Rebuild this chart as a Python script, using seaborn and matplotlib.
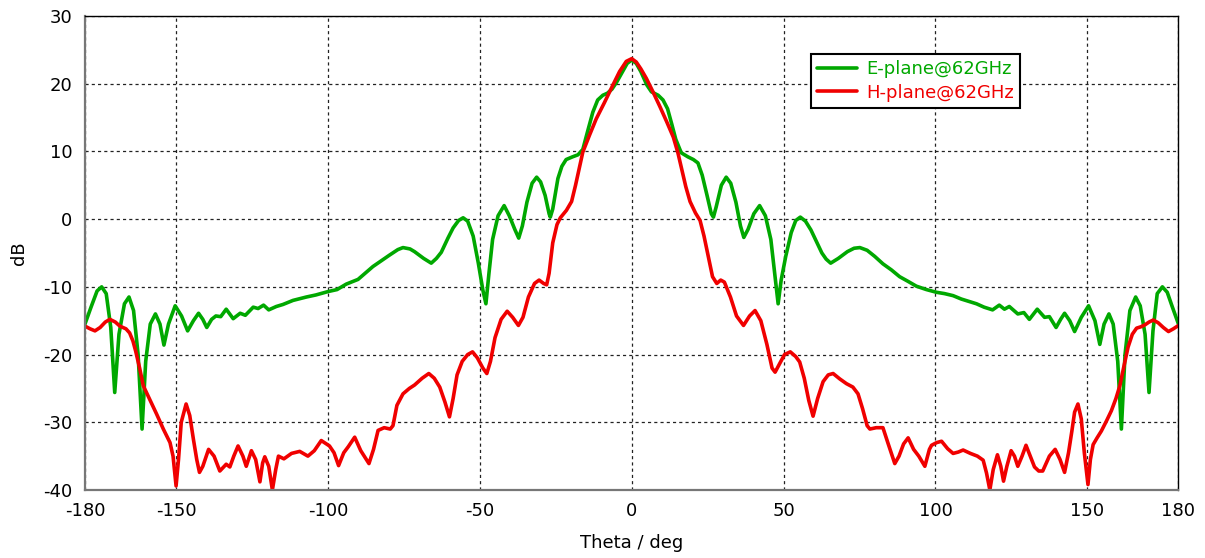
"""E-plane / H-plane radiation pattern at 62 GHz."""

import matplotlib
matplotlib.use("Agg")
import matplotlib.pyplot as plt
import numpy as np
import pandas as pd
import seaborn as sns

sns.set_style("white")
plt.rcParams["font.family"] = ["DejaVu Sans"]
plt.rcParams["axes.unicode_minus"] = False

GREEN = "#00A800"
RED = "#F00000"

# E-plane (theta in deg, gain in dB)
e_theta = [
    -180, -178, -176, -174.5, -173, -171.5, -170.2, -168.8, -167, -165.5,
    -164, -162.5, -161.2, -160, -158.5, -156.8, -155.3, -154, -152.5, -150.3,
    -148.2, -146.2, -144.3, -142.6, -141.2, -139.9, -138.3, -136.9, -135.3, -133.5,
    -131.2, -128.9, -127.2, -124.6, -123, -121.2, -119.5, -117, -114.8, -111.5,
    -107.1, -104, -100, -97, -94, -90.1, -85.2, -79.7, -77, -75.3,
    -73, -71.5, -68.5, -66, -64.3, -62.7, -60.5, -58.8, -57, -55.5,
    -54, -52.2, -50.5, -49, -48, -47, -45.8, -44, -42, -40.3,
    -38.5, -37.2, -36, -34.5, -32.8, -31.3, -30, -28.5, -27.2, -26.8,
    -26, -24.3, -23, -21.6, -19.5, -17.7, -16.1, -14.5, -12.8, -11.2,
    -9.5, -8, -6.5, -5, -3, -1.5, 0,
    1.5, 3, 5, 6.5, 8.7, 10.3, 11.8, 13.2, 14.5, 16.3,
    18.5, 20.3, 21.8, 23.2, 24.8, 26.2, 26.9, 27.8, 29.5, 31.1,
    32.6, 34.3, 35.8, 36.9, 38.3, 40.2, 42.1, 44, 45.8, 47.2,
    48.2, 49.2, 50.7, 52.5, 54, 55.5, 57.2, 59, 61, 62.6,
    64, 65.5, 68, 71, 73.2, 75.1, 77.5, 80, 82.7, 85.5,
    88.2, 91, 93.7, 97, 100.3, 103, 105.8, 108.5, 111.3, 113.5,
    116, 118.8, 121, 122.7, 124.3, 127.1, 129.1, 130.9, 133.5, 135.9,
    137.5, 139.7, 141.2, 142.5, 144.2, 145.8, 148, 150.4, 152.5, 154.1,
    155.5, 157.1, 158.5, 160, 161.2, 162.4, 164, 165.9, 167.4, 169,
    170.3, 171.6, 173, 174.7, 176.3, 178, 180,
]
e_db = [
    -15.5, -13.0, -10.6, -10.0, -11.0, -16.0, -25.6, -17.0, -12.5, -11.5,
    -13.5, -20.0, -31.0, -21.0, -15.5, -14.0, -15.5, -18.6, -15.5, -12.8,
    -14.3, -16.5, -15.0, -13.9, -14.8, -16.0, -14.8, -14.3, -14.4, -13.3,
    -14.7, -13.9, -14.2, -13.0, -13.2, -12.7, -13.4, -12.9, -12.6, -12.0,
    -11.5, -11.2, -10.7, -10.4, -9.6, -8.9, -7.0, -5.3, -4.5, -4.2,
    -4.4, -4.8, -5.8, -6.5, -5.8, -4.9, -2.8, -1.3, -0.2, 0.2,
    -0.3, -2.5, -6.5, -10.5, -12.5, -8.0, -3.0, 0.5, 2.0, 0.5,
    -1.5, -2.8, -1.0, 2.5, 5.3, 6.2, 5.5, 3.5, 0.8, 0.3,
    1.5, 6.0, 7.8, 8.8, 9.2, 9.5, 10.3, 13.0, 15.8, 17.6,
    18.3, 18.6, 19.2, 20.2, 21.8, 23.0, 23.5,
    23.0, 21.8, 19.8, 18.8, 18.3, 17.6, 16.3, 14.0, 11.8, 9.8,
    9.2, 8.8, 8.3, 6.5, 3.5, 0.8, 0.3, 1.8, 5.0, 6.2,
    5.3, 2.5, -1.0, -2.7, -1.5, 0.8, 2.0, 0.5, -3.0, -8.5,
    -12.5, -9.0, -5.5, -2.0, -0.2, 0.3, -0.3, -1.6, -3.5, -5.0,
    -5.9, -6.5, -5.8, -4.8, -4.3, -4.2, -4.6, -5.5, -6.6, -7.5,
    -8.5, -9.2, -9.9, -10.4, -10.8, -11.0, -11.3, -11.8, -12.2, -12.5,
    -13.0, -13.4, -12.7, -13.3, -12.9, -14.0, -13.8, -14.8, -13.3, -14.5,
    -14.4, -16.0, -14.8, -13.9, -15.0, -16.6, -14.5, -12.8, -15.0, -18.5,
    -15.5, -14.0, -15.5, -21.0, -31.0, -20.0, -13.5, -11.5, -12.8, -17.0,
    -25.6, -16.5, -11.0, -10.0, -10.8, -13.0, -15.5,
]

# H-plane
h_theta = [
    -180, -178.3, -176.7, -175, -173.3, -171.8, -170, -168.5, -166.5, -165.3,
    -164.2, -163.3, -162, -160.8, -158.5, -156.4, -154.2, -152, -151, -150,
    -149.2, -148.3, -146.7, -145.5, -144.3, -143.2, -142.3, -141.2, -139.3, -137.5,
    -135.6, -133.5, -132.3, -131, -129.6, -128, -126.9, -125.2, -123.8, -122.4,
    -121.5, -120.8, -119.5, -118.3, -117.2, -116.3, -114.5, -112, -109.3, -106.6,
    -104.5, -102.2, -99.5, -98, -96.5, -94.8, -93.3, -91.2, -89.2, -86.5,
    -85, -83.5, -81.5, -79.5, -78.6, -77.3, -75.3, -73.2, -71.5, -69,
    -66.8, -65, -63.2, -61.5, -60, -58.8, -57.5, -55.8, -54, -52.4,
    -50.8, -49, -47.7, -46.5, -45, -43, -41, -39.2, -37.3, -35.8,
    -34, -32, -30.5, -29, -28, -27.2, -26, -24.6, -23.5, -21.5,
    -19.8, -18.5, -16.1, -13.9, -11.7, -9, -6.2, -4, -1.8, 0,
    1.5, 3, 4.8, 7, 9.3, 11.5, 13.7, 15.2, 16.4, 17.8,
    19.2, 21, 22.5, 23.8, 25.2, 26.6, 28, 29.3, 30.5, 32.5,
    34.5, 36.8, 38.8, 40.6, 42.5, 44.5, 46.2, 47.2, 48.5, 50.3,
    52.2, 54, 55.3, 56.8, 58.3, 59.7, 61.2, 63, 64.7, 66.3,
    68.5, 70.7, 72.8, 74.5, 76, 77.5, 78.4, 80.5, 82.7, 84.3,
    86.6, 88, 89.5, 91, 92.8, 94.5, 96.5, 98, 98.7, 100.4,
    102, 104, 105.8, 107.5, 109.1, 111.5, 113.8, 115.7, 116.8, 117.9,
    119, 120.4, 121.5, 122.4, 123.5, 124.9, 126, 127.1, 128.5, 129.8,
    131.2, 132.6, 134, 135.3, 137.5, 139.4, 141, 142.5, 143.8, 144.9,
    145.8, 146.9, 148, 149, 150.2, 151, 151.9, 153.2, 154.6, 156.3,
    157.9, 159.4, 160.7, 162, 163.4, 164.8, 166.2, 167.6, 169, 170.3,
    171.7, 173.3, 175, 176.7, 178.3, 180,
]
h_db = [
    -15.8, -16.2, -16.5, -16.0, -15.2, -14.8, -15.2, -15.8, -16.2, -16.8,
    -18.0, -19.5, -22.0, -24.6, -26.8, -28.8, -31.0, -33.0, -35.0, -39.4,
    -35.5, -30.0, -27.3, -29.0, -32.5, -35.5, -37.4, -36.5, -34.0, -35.0,
    -37.2, -36.2, -36.6, -35.0, -33.5, -35.0, -36.5, -34.2, -35.5, -38.8,
    -36.0, -35.1, -36.5, -40.0, -37.0, -35.0, -35.4, -34.6, -34.3, -35.0,
    -34.2, -32.7, -33.5, -34.5, -36.4, -34.5, -33.6, -32.2, -34.2, -36.1,
    -34.0, -31.2, -30.8, -31.0, -30.5, -27.5, -25.8, -25.0, -24.5, -23.5,
    -22.8, -23.5, -24.8, -27.0, -29.2, -26.5, -23.0, -21.0, -20.0, -19.6,
    -20.5, -22.0, -22.8, -21.0, -17.5, -14.8, -13.6, -14.5, -15.7, -14.5,
    -11.5, -9.5, -9.0, -9.5, -9.7, -8.0, -3.5, -0.8, 0.2, 1.3,
    2.6, 5.0, 9.9, 12.4, 14.8, 17.2, 19.8, 21.8, 23.3, 23.7,
    23.2, 22.2, 20.8, 18.8, 16.6, 14.4, 12.1, 9.8, 7.5, 4.8,
    2.6, 0.9, -0.2, -2.5, -5.5, -8.5, -9.5, -9.0, -9.3, -11.5,
    -14.3, -15.7, -14.3, -13.5, -15.0, -18.5, -22.0, -22.6, -21.5, -20.0,
    -19.6, -20.3, -21.1, -23.5, -26.8, -29.1, -26.5, -24.0, -23.0, -22.8,
    -23.6, -24.3, -24.8, -25.8, -28.0, -30.5, -31.0, -30.8, -30.8, -33.0,
    -36.1, -35.0, -33.2, -32.3, -34.0, -35.0, -36.5, -34.0, -33.4, -33.0,
    -32.8, -33.9, -34.6, -34.4, -34.1, -34.6, -35.0, -35.6, -37.5, -40.0,
    -37.0, -34.8, -36.5, -38.7, -36.5, -34.2, -35.0, -36.5, -35.0, -33.4,
    -35.0, -36.6, -37.2, -37.2, -35.0, -34.0, -35.5, -37.4, -34.5, -31.3,
    -28.5, -27.3, -29.5, -34.5, -39.2, -35.5, -33.3, -32.3, -31.3, -29.8,
    -28.3, -26.5, -24.6, -21.8, -18.9, -17.0, -16.1, -15.9, -15.6, -15.2,
    -14.9, -15.3, -16.0, -16.6, -16.2, -15.7,
]

x_ticks = [-180, -150, -100, -50, 0, 50, 100, 150, 180]
y_ticks = [-40, -30, -20, -10, 0, 10, 20, 30]

e_df = pd.DataFrame({"theta": e_theta, "db": e_db})
h_df = pd.DataFrame({"theta": h_theta, "db": h_db})

fig = plt.figure(figsize=(12.05, 5.58), dpi=100)
ax = fig.add_axes([0.0705, 0.1219, 0.9075, 0.8494])

sns.lineplot(data=e_df, x="theta", y="db", ax=ax, color=GREEN, lw=2.6,
             estimator=None, label="E-plane@62GHz")
sns.lineplot(data=h_df, x="theta", y="db", ax=ax, color=RED, lw=2.6,
             estimator=None, label="H-plane@62GHz")

ax.set_xlim(-180, 180)
ax.set_ylim(-40, 30)
ax.set_xticks(x_ticks)
ax.set_yticks(y_ticks)
ax.tick_params(axis="both", labelsize=13, direction="out", length=5,
               width=1, color="#555555", labelcolor="black", pad=4)
ax.grid(True, color="#222222", linestyle=(0, (2.5, 2.5)), linewidth=0.9)

ax.set_xlabel("Theta / deg", fontsize=13, labelpad=10, color="black")
ax.set_ylabel("dB", fontsize=13, color="black")
ax.yaxis.set_label_coords(-0.052, 0.5)

for side in ["left", "bottom"]:
    ax.spines[side].set_color("#777777")
    ax.spines[side].set_linewidth(1.6)
for side in ["top", "right"]:
    ax.spines[side].set_color("black")
    ax.spines[side].set_linewidth(1.0)

leg = ax.legend(loc="upper left", bbox_to_anchor=(0.664, 0.92), fontsize=13,
                frameon=True, fancybox=False, framealpha=1, edgecolor="black",
                handlelength=2.2, borderpad=0.35, labelspacing=0.3,
                handletextpad=0.5, borderaxespad=0)
leg.get_frame().set_linewidth(1.5)
for txt, col in zip(leg.get_texts(), [GREEN, RED]):
    txt.set_color(col)

fig.savefig("out.png", dpi=100)
